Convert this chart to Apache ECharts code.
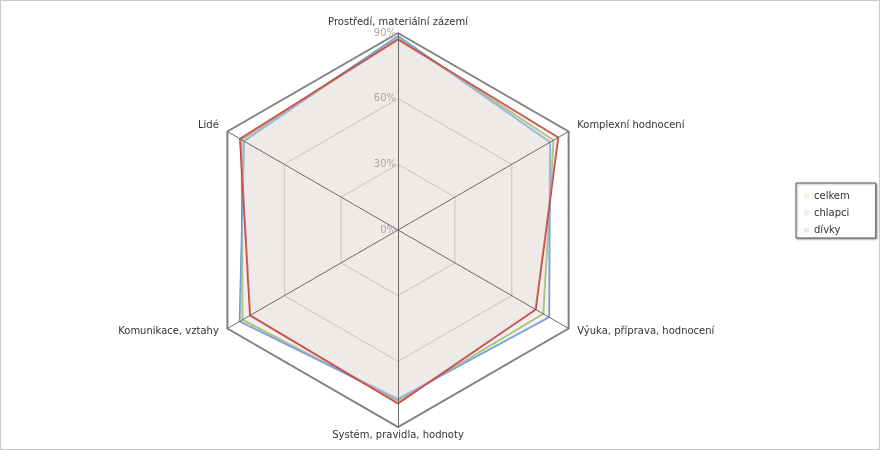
<!DOCTYPE html>
<html>
<head>
<meta charset="utf-8">
<script src="https://cdn.jsdelivr.net/npm/echarts@6/dist/echarts.min.js"></script>
<style>
html,body{margin:0;padding:0;background:#fff;}
#wrap{width:880px;height:450px;box-sizing:border-box;border:1px solid #c8c8c8;}
#chart{width:878px;height:448px;}
</style>
</head>
<body>
<div id="wrap"><div id="chart"></div></div>
<script>
// Indicators listed counter-clockwise starting at the top
const categories = ['Prostředí, materiální zázemí', 'Lidé', 'Komunikace, vztahy', 'Systém, pravidla, hodnoty', 'Výuka, příprava, hodnocení', 'Komplexní hodnocení'];
const seriesNames = ['celkem', 'chlapci', 'dívky'];
const celkem  = [88.0, 82.5, 82.0, 78.0, 76.6, 82.0];
const chlapci = [88.6, 81.2, 83.5, 77.2, 79.7, 80.2];
const divky   = [87.0, 83.3, 78.0, 79.2, 72.6, 84.5];
const tickMax = 90;
const tickStep = 30;

const FONT = 'DejaVu Sans';
const colors = ['#86b548', '#6b9bd6', '#c8403a'];
const legendColors = ['#eef3e4', '#e8eef7', '#f7e3e3'];
const center = [397, 229];
const radius = 197;
// label padding per indicator (style only)
const namePads = [[0,0,3,0],[0,6,10,0],[2,6,0,0],[0,0,0,0],[2,0,0,6],[0,0,10,6]];
const rich = {};
namePads.forEach((p, i) => { rich['n' + i] = {padding: p, color: '#333', fontSize: 10, fontFamily: FONT}; });

const chart = echarts.init(document.getElementById('chart'));
const values = [celkem, chlapci, divky];

chart.setOption({
  animation: false,
  textStyle: {fontFamily: FONT},
  legend: {
    orient: 'vertical',
    left: 795, top: 182,
    padding: [8, 26, 3, 8],
    itemGap: 7,
    itemWidth: 5, itemHeight: 5,
    itemTextGap: 5,
    icon: 'rect',
    borderColor: '#555', borderWidth: 1,
    backgroundColor: '#fff',
    shadowColor: 'rgba(0,0,0,0.35)', shadowBlur: 2, shadowOffsetX: 1, shadowOffsetY: 1,
    textStyle: {fontSize: 10, color: '#333', fontFamily: FONT},
    data: seriesNames.map((n, i) => ({name: n, itemStyle: {color: legendColors[i]}}))
  },
  radar: [{
    z: 3,
    center: center, radius: radius, shape: 'polygon', startAngle: 90,
    splitNumber: tickMax / tickStep,
    indicator: categories.map(c => ({name: c, min: 0, max: tickMax})),
    nameGap: 3,
    axisName: {
      color: '#333', fontSize: 10, fontFamily: FONT,
      formatter: (name) => '{n' + categories.indexOf(name) + '|' + name + '}',
      rich: rich
    },
    axisLine: {lineStyle: {color: '#6a6a6a', width: 1}},
    splitLine: {lineStyle: {color: ['#ccc', '#c4c4c4', '#c4c4c4', 'rgba(0,0,0,0)'], width: 1}},
    splitArea: {show: false}
  }, {
    z: 3,
    center: center, radius: radius, shape: 'polygon', startAngle: 90,
    splitNumber: 1,
    indicator: categories.map(c => ({name: '', min: 0, max: tickMax})),
    axisName: {show: false},
    axisLine: {show: false},
    splitLine: {lineStyle: {color: ['rgba(0,0,0,0)', '#808080'], width: 2}},
    splitArea: {show: false}
  }],
  polar: {center: center, radius: radius},
  angleAxis: {show: false, startAngle: 90, type: 'value', min: 0, max: 360},
  radiusAxis: {
    type: 'value', min: 0, max: tickMax, interval: tickStep, z: 10,
    axisLine: {show: false}, axisTick: {show: false}, splitLine: {show: false},
    axisLabel: {formatter: '{value}%', color: '#a8a8a8', fontSize: 10, fontFamily: FONT, margin: 2}
  },
  series: values.map((v, i) => ({
    type: 'radar',
    radarIndex: 0,
    z: 2,
    name: seriesNames[i],
    symbol: 'none',
    lineStyle: {color: colors[i], width: 2},
    itemStyle: {color: colors[i]},
    areaStyle: {color: 'rgb(229,223,219)', opacity: 0.3},
    data: [{name: seriesNames[i], value: v}]
  }))
});
</script>
</body>
</html>
